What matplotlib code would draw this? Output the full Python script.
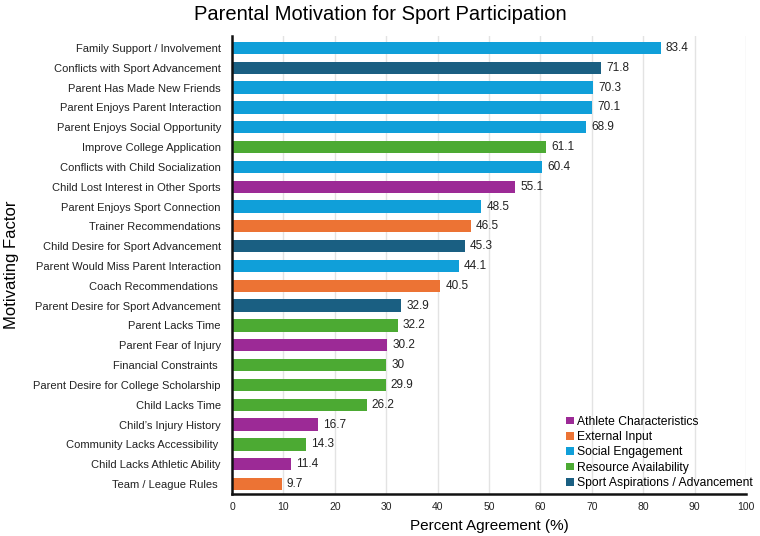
import matplotlib
matplotlib.use("Agg")
import matplotlib.pyplot as plt
from matplotlib.patches import Patch

plt.rcParams['font.family'] = ['Liberation Sans', 'DejaVu Sans']

factors = [
    "Family Support / Involvement",
    "Conflicts with Sport Advancement",
    "Parent Has Made New Friends",
    "Parent Enjoys Parent Interaction",
    "Parent Enjoys Social Opportunity",
    "Improve College Application",
    "Conflicts with Child Socialization",
    "Child Lost Interest in Other Sports",
    "Parent Enjoys Sport Connection",
    "Trainer Recommendations",
    "Child Desire for Sport Advancement",
    "Parent Would Miss Parent Interaction",
    "Coach Recommendations ",
    "Parent Desire for Sport Advancement",
    "Parent Lacks Time",
    "Parent Fear of Injury",
    "Financial Constraints ",
    "Parent Desire for College Scholarship",
    "Child Lacks Time",
    "Child\u2019s Injury History",
    "Community Lacks Accessibility ",
    "Child Lacks Athletic Ability",
    "Team / League Rules ",
]
values = [83.4, 71.8, 70.3, 70.1, 68.9, 61.1, 60.4, 55.1, 48.5, 46.5, 45.3, 44.1,
          40.5, 32.9, 32.2, 30.2, 30, 29.9, 26.2, 16.7, 14.3, 11.4, 9.7]
value_labels = ["83.4", "71.8", "70.3", "70.1", "68.9", "61.1", "60.4", "55.1", "48.5",
                "46.5", "45.3", "44.1", "40.5", "32.9", "32.2", "30.2", "30", "29.9",
                "26.2", "16.7", "14.3", "11.4", "9.7"]
categories = ["Social Engagement", "Sport Aspirations / Advancement", "Social Engagement",
              "Social Engagement", "Social Engagement", "Resource Availability",
              "Social Engagement", "Athlete Characteristics", "Social Engagement",
              "External Input", "Sport Aspirations / Advancement", "Social Engagement",
              "External Input", "Sport Aspirations / Advancement", "Resource Availability",
              "Athlete Characteristics", "Resource Availability", "Resource Availability",
              "Resource Availability", "Athlete Characteristics", "Resource Availability",
              "Athlete Characteristics", "External Input"]
legend_order = ["Athlete Characteristics", "External Input", "Social Engagement",
                "Resource Availability", "Sport Aspirations / Advancement"]
colors = {
    "Athlete Characteristics": "#9c2a96",
    "External Input": "#ec7334",
    "Social Engagement": "#109fd9",
    "Resource Availability": "#4caa33",
    "Sport Aspirations / Advancement": "#1a5f82",
}
xticks = [0, 10, 20, 30, 40, 50, 60, 70, 80, 90, 100]

fig = plt.figure(figsize=(7.6, 5.36), dpi=100)
ax = fig.add_axes([232/760, 1 - 494/536, (746-232)/760, (494-36)/536])

n = len(factors)
ys = list(range(n))
ax.barh(ys, values, height=0.62, color=[colors[c] for c in categories], zorder=3)
for y, v, lab in zip(ys, values, value_labels):
    ax.text(v + 1.0, y, lab, va='center', ha='left', fontsize=8.5, color='#222222', zorder=4)

ax.set_ylim(n - 0.5, -0.6)
ax.set_xlim(0, 100)
ax.set_yticks(ys)
ax.set_yticklabels(factors, fontsize=8, color='#222222')
ax.set_xticks(xticks)
ax.set_xticklabels([str(t) for t in xticks], fontsize=7.5, color='#222222')
ax.tick_params(axis='both', length=0, pad=6)
ax.tick_params(axis='y', pad=8)
ax.grid(axis='x', color='#e3e3e3', linewidth=1, zorder=0)
for s in ['top', 'right']:
    ax.spines[s].set_visible(False)
for s in ['left', 'bottom']:
    ax.spines[s].set_linewidth(1.8)
    ax.spines[s].set_color('#111111')
    ax.spines[s].set_zorder(5)

ax.set_xlabel("Percent Agreement (%)", fontsize=11, labelpad=5)
ax.set_ylabel("Motivating Factor", fontsize=12, labelpad=10)
fig.text(380/760, 1 - 14/536, "Parental Motivation for Sport Participation",
         ha='center', va='center', fontsize=14.5)

handles = [Patch(facecolor=colors[c], label=c) for c in legend_order]
ax.legend(handles=handles, loc='lower right', frameon=False, fontsize=8.7,
          handlelength=0.6, handleheight=0.6, handletextpad=0.25, labelspacing=0.28,
          borderaxespad=0.0, bbox_to_anchor=(1.022, 0.0))

fig.savefig("out.png", dpi=100)
